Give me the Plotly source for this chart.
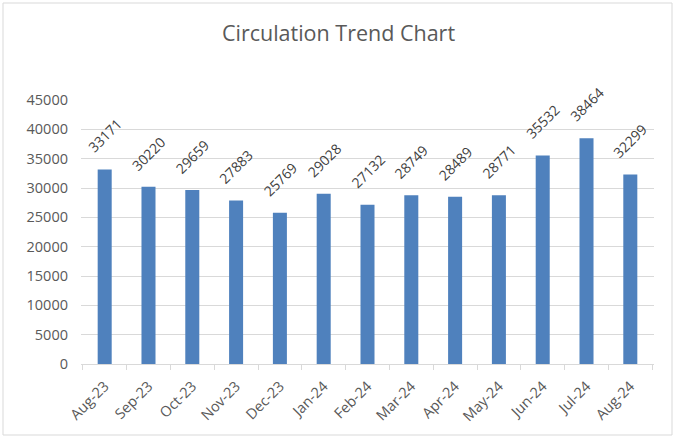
import plotly.graph_objects as go

months = ["Aug-23", "Sep-23", "Oct-23", "Nov-23", "Dec-23", "Jan-24", "Feb-24",
          "Mar-24", "Apr-24", "May-24", "Jun-24", "Jul-24", "Aug-24"]
circulation = [33171, 30220, 29659, 27883, 25769, 29028, 27132,
               28749, 28489, 28771, 35532, 38464, 32299]
y_ticks = [0, 5000, 10000, 15000, 20000, 25000, 30000, 35000, 40000, 45000]

W, H = 677, 437
L, R, T, B = 81, 23, 100, 73
pw, ph = W - L - R, H - T - B

fig = go.Figure(go.Bar(
    x=months, y=circulation,
    marker=dict(color="#4F81BD", line=dict(width=0)),
    hoverinfo="x+y",
))

for m, v in zip(months, circulation):
    fig.add_annotation(x=m, y=v, text=str(v), showarrow=False,
                       textangle=-45, xanchor="center", yanchor="bottom",
                       yshift=10,
                       font=dict(family="Open Sans", size=14, color="#404040"))

fig.update_layout(
    width=W, height=H,
    margin=dict(l=L, r=R, t=T, b=B, autoexpand=False),
    paper_bgcolor="white", plot_bgcolor="white",
    bargap=0.68,
    showlegend=False,
    title=dict(text="Circulation Trend Chart", x=0.5, xanchor="center",
               y=1 - 33 / H, yanchor="middle",
               font=dict(family="Open Sans", size=21.5, color="#595959")),
    xaxis=dict(
        showgrid=False, showline=True, linecolor="#d9d9d9", linewidth=1,
        ticks="outside", tickson="boundaries", ticklen=5, tickcolor="#d9d9d9",
        tickangle=-45, ticklabelstandoff=7,
        tickfont=dict(family="Open Sans", size=14.5, color="#595959"),
    ),
    yaxis=dict(
        range=[0, 45000], tickvals=y_ticks, ticktext=[str(t) for t in y_ticks],
        showgrid=True, gridcolor="#d9d9d9", gridwidth=1,
        zeroline=False, showline=False, ticks="", ticklabelstandoff=12,
        tickfont=dict(family="Open Sans", size=14.5, color="#595959"),
    ),
)

# outer chart border
fig.add_shape(type="rect", xref="paper", yref="paper",
              x0=(3 - L) / pw, x1=(672 - L) / pw,
              y0=-(435 - T - ph) / ph, y1=1 + (T - 3) / ph,
              line=dict(color="#d9d9d9", width=1), layer="below")

fig.write_html("out.html", config={"displayModeBar": False},
               post_script="document.body.style.margin='0';")
